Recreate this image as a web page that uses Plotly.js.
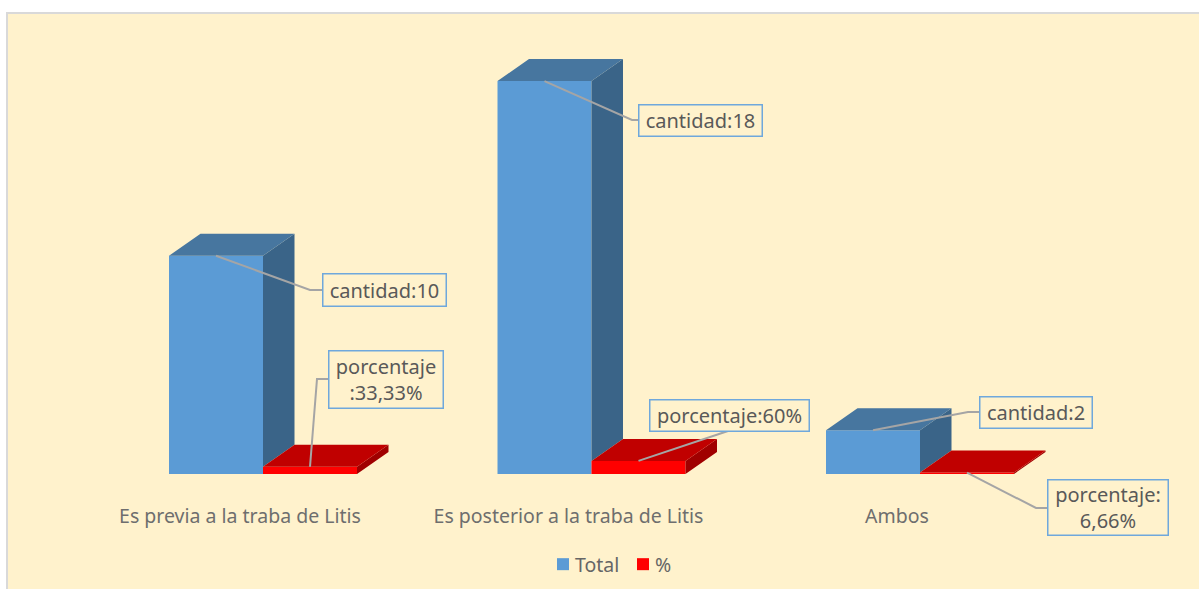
<!DOCTYPE html>
<html>
<head>
<meta charset="utf-8">
<script src="https://cdn.plot.ly/plotly-3.0.1.min.js"></script>
<style>html,body{margin:0;padding:0;background:#fff;overflow:hidden}#chart{width:1199px;height:589px}</style>
</head>
<body>
<div id="chart"></div>
<script>
// ---- data ----
const categories = ['Es previa a la traba de Litis', 'Es posterior a la traba de Litis', 'Ambos'];
const totals = [10, 18, 2];
const percents = [0.3333, 0.6, 0.0666];
const totalLabels = ['cantidad:10', 'cantidad:18', 'cantidad:2'];
const percentLabels = ['porcentaje<br>:33,33%', 'porcentaje:60%', 'porcentaje:<br>6,66%'];

// ---- layout geometry (pixels of the 1199x589 page) ----
const W = 1199, H = 589, baseY = 474;
const pxPerUnit = 21.83, pxPerCat = 328.5, firstCenter = 263;
const barW = 94, depthX = 31.5, depthY = 22;
const font = '"Noto Sans", "Open Sans", sans-serif';

const xOf = p => (p - firstCenter) / pxPerCat;
const yOf = p => (baseY - p) / pxPerUnit;
const bw = barW / pxPerCat, dx = depthX / pxPerCat, dy = depthY / pxPerUnit;
const paperX = p => p / W;
const paperY = p => (H - p) / H;

const positions = categories.map((_, i) => i);

// ---- 3D faces, derived from values through the axes ----
function faces(polyOf) {
  const xs = [], ys = [];
  positions.forEach(i => {
    polyOf(i).forEach(pt => { xs.push(pt[0]); ys.push(pt[1]); });
    xs.push(null); ys.push(null);
  });
  return {x: xs, y: ys};
}
function faceTrace(f, color) {
  return {type: 'scatter', mode: 'lines', x: f.x, y: f.y, fill: 'toself', fillcolor: color,
          line: {width: 0, color: color}, showlegend: false, hoverinfo: 'skip'};
}
const blueSide = faces(i => [[i, percents[i]], [i + dx, percents[i] + dy], [i + dx, totals[i] + dy], [i, totals[i]]]);
const blueTop = faces(i => [[i - bw, totals[i]], [i, totals[i]], [i + dx, totals[i] + dy], [i - bw + dx, totals[i] + dy]]);
const redSide = faces(i => [[i + bw, 0], [i + bw + dx, dy], [i + bw + dx, percents[i] + dy], [i + bw, percents[i]]]);
const redTop = faces(i => [[i, percents[i]], [i + bw, percents[i]], [i + bw + dx, percents[i] + dy], [i + dx, percents[i] + dy]]);

// ---- callouts ----
const callouts = [
  {text: totalLabels[0],   box: [322, 273, 446, 306], from: [0 - bw / 2, totals[0]],   via: [[310, 290], [322, 290]]},
  {text: percentLabels[0], box: [328, 350, 443, 408], from: [0 + bw / 2, percents[0]], via: [[317, 379], [328, 379]]},
  {text: totalLabels[1],   box: [638, 104, 762, 136], from: [1 - bw / 2, totals[1]],   via: [[632, 120], [638, 120]]},
  {text: percentLabels[1], box: [649, 399, 809, 431], from: [1 + bw / 2, percents[1]], via: [[728, 431]]},
  {text: totalLabels[2],   box: [979, 396, 1092, 428], from: [2 - bw / 2, totals[2]],  via: [[968, 412], [979, 412]]},
  {text: percentLabels[2], box: [1047, 479, 1168, 535], from: [2 + bw / 2, percents[2]], via: [[1036, 508], [1047, 508]]}
];
const leadX = [], leadY = [];
callouts.forEach(c => {
  leadX.push(c.from[0]); leadY.push(c.from[1]);
  c.via.forEach(p => { leadX.push(xOf(p[0])); leadY.push(yOf(p[1])); });
  leadX.push(null); leadY.push(null);
});

const traces = [
  {type: 'bar', name: 'Total', x: positions, y: totals, marker: {color: '#5B9BD5', line: {width: 0}}, hoverinfo: 'skip'},
  {type: 'bar', name: '%', x: positions, y: percents, marker: {color: '#FF0000', line: {width: 0}}, hoverinfo: 'skip'},
  faceTrace(blueSide, '#3A6488'),
  faceTrace(blueTop, '#47769F'),
  faceTrace(redSide, '#A00000'),
  faceTrace(redTop, '#C00000'),
  {type: 'scatter', mode: 'lines', x: leadX, y: leadY, line: {color: '#A5A5A5', width: 2}, showlegend: false, hoverinfo: 'skip'}
];

const layout = {
  width: W, height: H,
  margin: {l: 0, r: 0, t: 0, b: 0, pad: 0},
  paper_bgcolor: '#FFFFFF',
  plot_bgcolor: 'rgba(0,0,0,0)',
  barmode: 'group', bargap: 1 - 2 * bw, bargroupgap: 0,
  font: {family: font, color: '#595959', size: 18},
  xaxis: {
    range: [xOf(0), xOf(W)], showgrid: false, zeroline: false, showline: false, ticks: '',
    anchor: 'free', position: paperY(baseY),
    tickmode: 'array', tickvals: positions.map(i => i + xOf(240)), ticktext: categories,
    tickfont: {family: font, size: 19.5, color: '#6E6E6E'}, ticklabelstandoff: 28, fixedrange: true
  },
  yaxis: {range: [yOf(H), yOf(0)], visible: false, fixedrange: true},
  legend: {
    orientation: 'h', x: paperX(543), xanchor: 'left', y: paperY(545), yanchor: 'top',
    bgcolor: 'rgba(0,0,0,0)', font: {family: font, size: 19.5, color: '#666666'}
  },
  shapes: [{
    type: 'rect', xref: 'paper', yref: 'paper', layer: 'below',
    x0: paperX(7), x1: paperX(W + 4), y0: paperY(H + 4), y1: paperY(13),
    fillcolor: '#FFF2CC', line: {color: '#D9D9D9', width: 2}
  }],
  annotations: callouts.map(c => ({
    xref: 'paper', yref: 'paper', showarrow: false,
    x: paperX(c.box[0]), y: paperY(c.box[1]), xanchor: 'left', yanchor: 'top',
    width: c.box[2] - c.box[0] - 2, height: c.box[3] - c.box[1] - 2,
    text: c.text, align: 'center', valign: 'middle', borderpad: 0,
    bgcolor: '#FFF2CC', bordercolor: '#6FA8DC', borderwidth: 1.5,
    font: {family: font, size: 20, color: '#595959'}
  }))
};

Plotly.newPlot('chart', traces, layout, {displayModeBar: false, staticPlot: true}).then(gd => {
  // tighten the legend: symbol-to-text gap and spacing between entries
  const entries = gd.querySelectorAll('.legend .traces');
  const targetStep = 80;
  entries.forEach(e => {
    const t = e.querySelector('.legendtext');
    if (t) t.setAttribute('x', parseFloat(t.getAttribute('x')) - 8);
  });
  if (entries.length > 1) {
    const m0 = /translate\(\s*([-\d.]+)[ ,]+([-\d.]+)/.exec(entries[0].getAttribute('transform'));
    const m1 = /translate\(\s*([-\d.]+)[ ,]+([-\d.]+)/.exec(entries[1].getAttribute('transform'));
    if (m0 && m1) entries[1].setAttribute('transform', 'translate(' + (parseFloat(m0[1]) + targetStep) + ',' + m1[2] + ')');
  }
});
</script>
</body>
</html>
